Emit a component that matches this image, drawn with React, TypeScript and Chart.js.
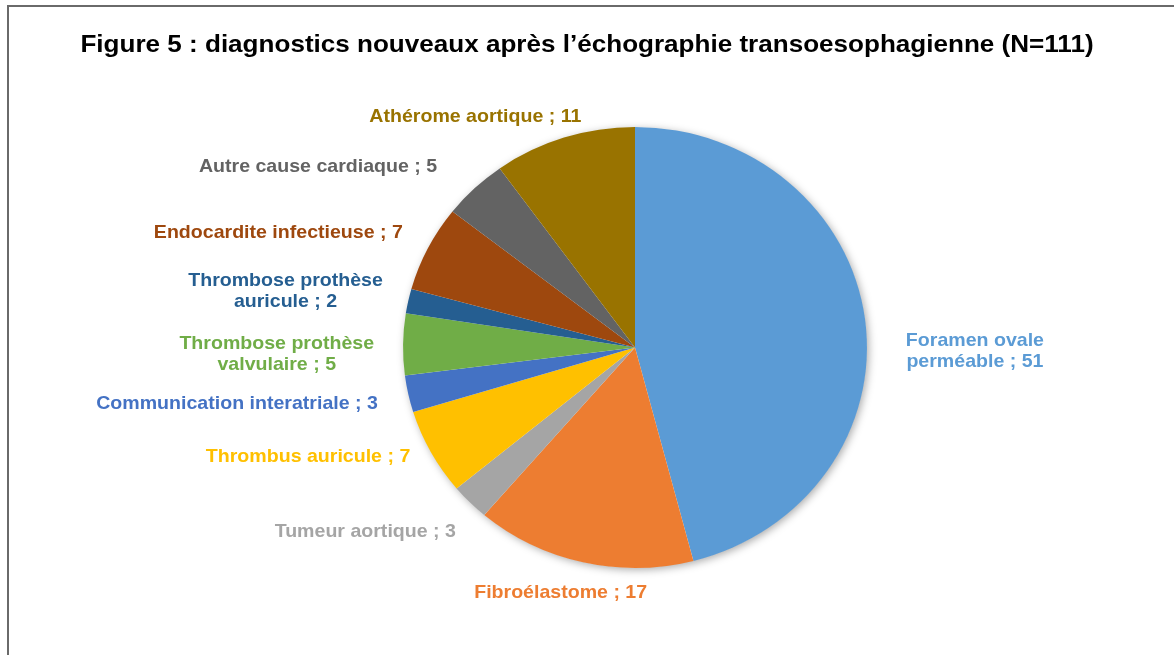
import React, { useEffect, useRef } from "react";
import { Chart, registerables } from "chart.js";

Chart.register(...registerables);

const titleText = "Figure 5 : diagnostics nouveaux après l’échographie transoesophagienne (N=111)";

const categories = [
  "Foramen ovale perméable",
  "Fibroélastome",
  "Tumeur aortique",
  "Thrombus auricule",
  "Communication interatriale",
  "Thrombose prothèse valvulaire",
  "Thrombose prothèse auricule",
  "Endocardite infectieuse",
  "Autre cause cardiaque",
  "Athérome aortique",
];

const values = [51, 17, 3, 7, 3, 5, 2, 7, 5, 11];

const colors = [
  "#5B9BD5",
  "#ED7D31",
  "#A5A5A5",
  "#FFC000",
  "#4472C4",
  "#70AD47",
  "#255E91",
  "#9E480E",
  "#636363",
  "#997300",
];

// number of words on the first line of a wrapped label (0 = single line)
const wrapAfterWords = [2, 0, 0, 0, 0, 2, 2, 0, 0, 0];

// manual label nudges (Excel labels were moved by hand)
const labelNudges: [number, number][] = [
  [13, 35],
  [-16, 3],
  [6, 10],
  [4, -9],
  [-3, 4],
  [-1, 10],
  [2, -4],
  [0, -3],
  [-18, -1],
  [-80, 6],
];

const X_STRETCH = 1.052;
const TEXT_STRETCH = 1.03;
const TITLE_STRETCH = 1.086;
const LABEL_FONT = 'bold 19px "Liberation Sans", Arial, sans-serif';
const TITLE_FONT = 'bold 24px "Liberation Sans", Arial, sans-serif';
const LINE_H = 21;
const LABEL_GAP = 28;

function labelLines(i: number): string[] {
  const full = `${categories[i]} ; ${values[i]}`;
  const n = wrapAfterWords[i];
  if (!n) return [full];
  const words = full.split(" ");
  return [words.slice(0, n).join(" "), words.slice(n).join(" ")];
}

const stretchPlugin = {
  id: "stretchPie",
  beforeDatasetsDraw(chart: any) {
    const meta = chart.getDatasetMeta(0);
    const arc = meta.data[0];
    if (!arc) return;
    const { x, y, outerRadius } = arc;
    const ctx = chart.ctx;
    ctx.save();
    ctx.translate(x, y);
    ctx.scale(X_STRETCH, 1);
    ctx.translate(-x, -y);
    // soft shadow under the pie
    ctx.save();
    ctx.shadowColor = "rgba(0,0,0,0.35)";
    ctx.shadowBlur = 8;
    ctx.shadowOffsetX = 2;
    ctx.shadowOffsetY = 2;
    ctx.beginPath();
    ctx.arc(x, y, outerRadius - 0.5, 0, Math.PI * 2);
    ctx.fillStyle = "#ffffff";
    ctx.fill();
    ctx.restore();
  },
  afterDatasetsDraw(chart: any) {
    const ctx = chart.ctx;
    ctx.restore();
    const meta = chart.getDatasetMeta(0);
    ctx.save();
    ctx.font = LABEL_FONT;
    ctx.textBaseline = "middle";
    ctx.textAlign = "center";
    meta.data.forEach((arc: any, i: number) => {
      const { x, y, startAngle, endAngle, outerRadius } = arc;
      const mid = (startAngle + endAngle) / 2;
      const c = Math.cos(mid);
      const s = Math.sin(mid);
      const r = outerRadius + LABEL_GAP;
      const ax = x + (outerRadius * X_STRETCH + LABEL_GAP) * c + labelNudges[i][0];
      const ay = y + r * s + labelNudges[i][1];
      const lines = labelLines(i);
      const w = TEXT_STRETCH * Math.max(...lines.map((l) => ctx.measureText(l).width));
      const h = lines.length * LINE_H;
      let cxBox = ax;
      if (c > 0.35) cxBox = ax + w / 2;
      else if (c < -0.35) cxBox = ax - w / 2;
      ctx.fillStyle = colors[i];
      lines.forEach((line, k) => {
        ctx.save();
        ctx.translate(cxBox, ay - h / 2 + LINE_H / 2 + k * LINE_H);
        ctx.scale(TEXT_STRETCH, 1);
        ctx.fillText(line, 0, 0);
        ctx.restore();
      });
    });
    ctx.restore();
  },
  afterDraw(chart: any) {
    const ctx = chart.ctx;
    ctx.save();
    ctx.font = TITLE_FONT;
    ctx.textBaseline = "middle";
    ctx.textAlign = "center";
    ctx.fillStyle = "#000000";
    ctx.translate(chart.width / 2, 45);
    ctx.scale(TITLE_STRETCH, 1);
    ctx.fillText(titleText, 0, 0);
    ctx.restore();
  },
};

export default function App() {
  const canvasRef = useRef<HTMLCanvasElement>(null);

  useEffect(() => {
    const canvas = canvasRef.current;
    if (!canvas) return;
    const chart = new Chart(canvas, {
      type: "pie",
      data: {
        labels: categories,
        datasets: [
          {
            data: values,
            backgroundColor: colors,
            borderWidth: 0,
          },
        ],
      },
      options: {
        animation: false,
        responsive: false,
        maintainAspectRatio: false,
        layout: { padding: { left: 146, right: 50, top: 127, bottom: 87 } },
        plugins: {
          legend: { display: false },
          tooltip: { enabled: false },
          title: { display: false },
        },
      },
      plugins: [stretchPlugin],
    });
    return () => chart.destroy();
  }, []);

  return (
    <div style={{ position: "fixed", left: 0, top: 0, width: 1174, height: 655, overflow: "hidden", background: "#ffffff" }}>
      <div
        style={{
          position: "absolute",
          left: 7,
          top: 5,
          width: 2000,
          height: 2000,
          border: "2px solid #6a6a6a",
          boxSizing: "border-box",
        }}
      />
      <canvas ref={canvasRef} width={1174} height={655} style={{ position: "absolute", left: 0, top: 0 }} />
    </div>
  );
}
